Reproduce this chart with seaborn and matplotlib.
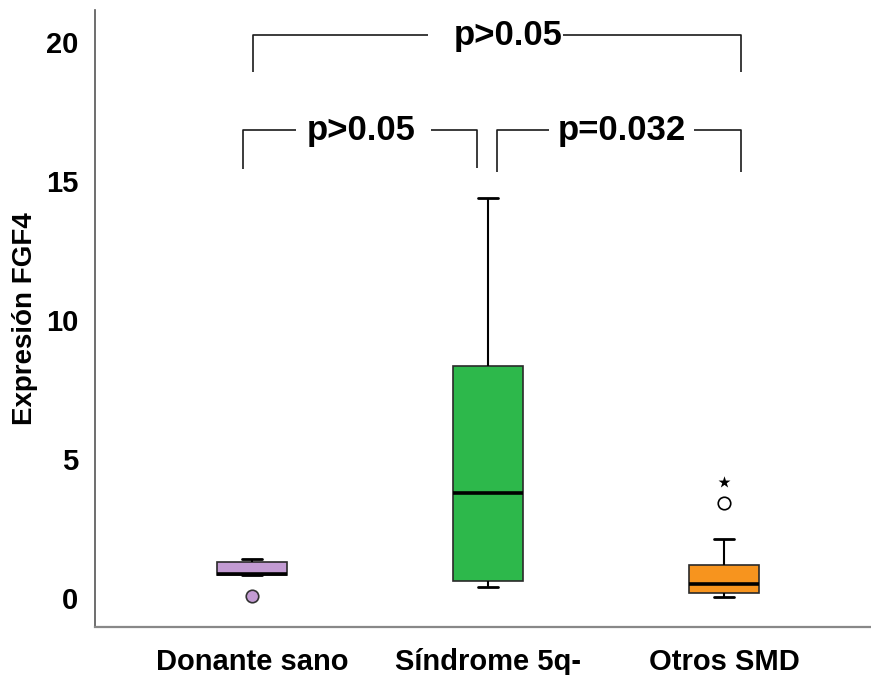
import numpy as np
import pandas as pd
import matplotlib
matplotlib.use("Agg")
import matplotlib.pyplot as plt
import seaborn as sns

# ---- data ----
categories = ["Donante sano", "Síndrome 5q-", "Otros SMD"]
whisker_low = [0.83, 0.40, 0.04]
q1 = [0.83, 0.61, 0.18]
median = [0.88, 3.78, 0.50]
q3 = [1.29, 8.33, 1.19]
whisker_high = [1.40, 14.39, 2.12]
outlier_filled_group = ["Donante sano"]
outlier_filled_values = [0.07]
outlier_open_group = ["Otros SMD"]
outlier_open_values = [3.42]
extreme_group = ["Otros SMD"]
extreme_values = [4.17]
y_ticks = [0, 5, 10, 15, 20]
box_colors = ["#C39BD3", "#2DB84B", "#F7941E"]
comparison_labels = ["p>0.05", "p>0.05", "p=0.032"]

# table for seaborn: five-number summaries per group
rows = []
for c, lo, a, m, b, hi in zip(categories, whisker_low, q1, median, q3, whisker_high):
    for v in (lo, a, m, b, hi):
        rows.append({"grupo": c, "valor": v})
df = pd.DataFrame(rows)

sns.set_style("white")
plt.rcParams["font.family"] = ["Liberation Sans", "DejaVu Sans"]
plt.rcParams["font.weight"] = "bold"
plt.rcParams["text.color"] = "black"
plt.rcParams["axes.labelcolor"] = "black"
plt.rcParams["xtick.labelcolor"] = "black"
plt.rcParams["ytick.labelcolor"] = "black"

fig = plt.figure(figsize=(8.71, 6.75), dpi=100)
ax = fig.add_axes([95 / 871, 48 / 675, 776 / 871, 617 / 675])

sns.boxplot(
    data=df, x="grupo", y="valor", hue="grupo", order=categories,
    hue_order=categories, palette=box_colors, saturation=1, legend=False,
    whis=(0, 100), width=0.30, linewidth=1.2, linecolor="#2a2a2a",
    showfliers=False, capwidths=0.085,
    medianprops=dict(color="black", linewidth=2.6),
    whiskerprops=dict(color="black", linewidth=1.5),
    capprops=dict(color="black", linewidth=2.0),
    ax=ax,
)

sns.stripplot(x=outlier_filled_group, y=outlier_filled_values, order=categories,
              jitter=False, color=box_colors[0], edgecolor="#333333", linewidth=1.2,
              size=9, ax=ax)
sns.stripplot(x=outlier_open_group, y=outlier_open_values, order=categories,
              jitter=False, color="white", edgecolor="black", linewidth=1.2,
              size=9, ax=ax)
sns.stripplot(x=extreme_group, y=extreme_values, order=categories,
              jitter=False, color="black", marker="*", size=9, ax=ax)

ax.set_xlim(-0.665, 2.623)
ax.set_ylim(-1.04, 21.15)
ax.set_yticks(y_ticks)
ax.set_yticklabels([str(t) for t in y_ticks])

ax.set_xlabel("")
ax.set_ylabel("Expresión FGF4", fontsize=20, fontweight="bold", color="black")
ax.yaxis.set_label_coords(-0.073, 0.5)

for s in ("top", "right"):
    ax.spines[s].set_visible(False)
ax.spines["left"].set_color("#555555")
ax.spines["left"].set_linewidth(1.2)
ax.spines["bottom"].set_color("#888888")
ax.spines["bottom"].set_linewidth(1.6)

ax.tick_params(axis="y", length=9, width=1.2, color="#555555", labelsize=21,
               labelcolor="black", pad=3)
ax.tick_params(axis="x", length=7, width=1.2, color="#555555", labelsize=21,
               labelcolor="black", pad=8)
for lab in ax.get_xticklabels() + ax.get_yticklabels():
    lab.set_fontweight("bold")

# ---- significance brackets ----
lc = "#1a1a1a"
lw = 1.2
fs = 25


def bracket(x0, x1, y, ybot0, ybot1, gap0, gap1, tx, label):
    ax.plot([x0, x0, gap0], [ybot0, y, y], color=lc, lw=lw, solid_capstyle="butt")
    ax.plot([gap1, x1, x1], [y, y, ybot1], color=lc, lw=lw, solid_capstyle="butt")
    ax.text(tx, y, label, ha="center", va="center", fontsize=fs, fontweight="bold",
            color="black")


bracket(0.004, 2.072, 20.25, 18.92, 18.92, 0.746, 1.318, 1.087, comparison_labels[0])
bracket(-0.036, 0.953, 16.83, 15.43, 15.47, 0.186, 0.758, 0.465, comparison_labels[1])
bracket(1.038, 2.072, 16.83, 15.32, 15.32, 1.258, 1.873, 1.568, comparison_labels[2])

fig.savefig("out.png", dpi=100)
